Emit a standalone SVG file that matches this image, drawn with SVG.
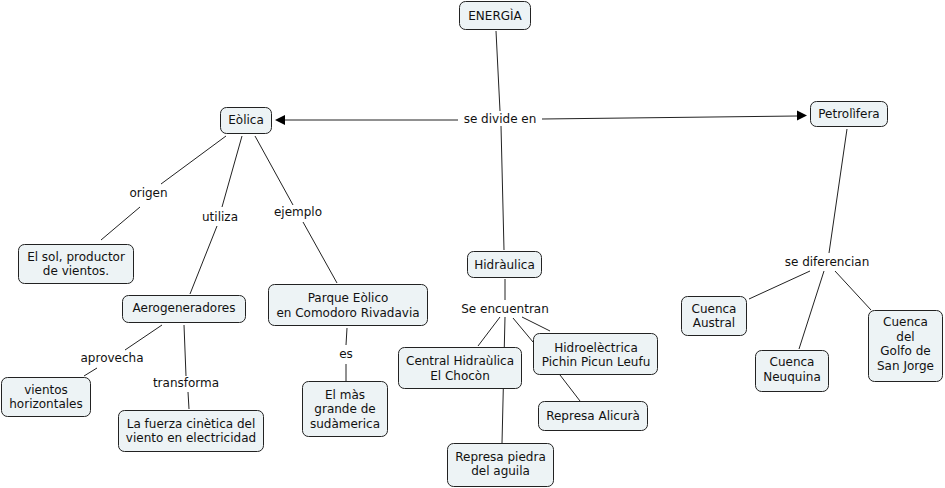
<svg xmlns="http://www.w3.org/2000/svg" width="945" height="488" viewBox="0 0 945 488">
<defs>
<style>
.n rect{fill:#edf3f5;stroke:#222;stroke-width:1}
text{font-family:"DejaVu Sans",Verdana,sans-serif;font-size:12px;fill:#111;text-anchor:middle}
.c line{stroke:#222;stroke-width:1;fill:none}
.c polygon{fill:#000}
</style>
</defs>
<rect x="0" y="0" width="945" height="488" fill="#ffffff"/>
<g id="connectors" class="c">
<line x1="496" y1="31" x2="500" y2="111"/>
<line x1="501" y1="126" x2="504" y2="250"/>
<line x1="458" y1="120" x2="284" y2="120"/>
<polygon points="275,120 285,115 285,125"/>
<line x1="542" y1="119" x2="797" y2="116"/>
<polygon points="807,115.5 797,110.5 797,120.5"/>
<line x1="226" y1="136" x2="161" y2="184"/>
<line x1="140" y1="207" x2="101" y2="240"/>
<line x1="242" y1="136" x2="222" y2="207"/>
<line x1="217" y1="226" x2="190" y2="294"/>
<line x1="255" y1="136" x2="293" y2="205"/>
<line x1="303" y1="222" x2="337" y2="283"/>
<line x1="162" y1="325" x2="125" y2="350"/>
<line x1="97" y1="368" x2="84" y2="376"/>
<line x1="184" y1="325" x2="186" y2="376"/>
<line x1="188" y1="392" x2="189" y2="409"/>
<line x1="347" y1="328" x2="346" y2="345"/>
<line x1="346" y1="364" x2="346" y2="381"/>
<line x1="505" y1="279" x2="505" y2="300"/>
<line x1="500" y1="317" x2="478" y2="346"/>
<line x1="505" y1="317" x2="502" y2="443"/>
<line x1="513" y1="318" x2="533" y2="342"/>
<line x1="522" y1="317" x2="550" y2="331"/>
<line x1="560" y1="375" x2="580" y2="401"/>
<line x1="847" y1="129" x2="829" y2="253"/>
<line x1="810" y1="271" x2="749" y2="299"/>
<line x1="824" y1="271" x2="799" y2="349"/>
<line x1="835" y1="271" x2="871" y2="310"/>
</g>
<g id="labels">
<text x="500" y="122.5">se divide en</text>
<text x="148.5" y="196.5">origen</text>
<text x="220" y="220.5">utiliza</text>
<text x="298" y="215.5">ejemplo</text>
<text x="112" y="361.5">aprovecha</text>
<text x="186" y="386.5">transforma</text>
<text x="346" y="357.5">es</text>
<text x="505" y="312.5">Se encuentran</text>
<text x="827" y="265.5">se diferencian</text>
</g>
<g id="n-energia" class="n"><rect x="459.5" y="1.5" width="71" height="28" rx="6"/><text x="495" y="20">ENERGÌA</text></g>
<g id="n-eolica" class="n"><rect x="220.5" y="107.5" width="51" height="26" rx="6"/><text x="246" y="124">Eòlica</text></g>
<g id="n-petrolifera" class="n"><rect x="810.5" y="101.5" width="77" height="25" rx="6"/><text x="849" y="118">Petrolìfera</text></g>
<g id="n-hidraulica" class="n"><rect x="467.5" y="251.5" width="74" height="26" rx="6"/><text x="504.5" y="268.5">Hidràulica</text></g>
<g id="n-elsol" class="n"><rect x="18.5" y="244.5" width="115" height="39" rx="6"/><text x="76" y="260.5">El sol, productor</text><text x="76" y="275">de vientos.</text></g>
<g id="n-aerogeneradores" class="n"><rect x="122.5" y="295.5" width="123" height="27" rx="6"/><text x="184" y="311.5">Aerogeneradores</text></g>
<g id="n-vientos" class="n"><rect x="1.5" y="377.5" width="89" height="39" rx="6"/><text x="46" y="393.5">vientos</text><text x="46" y="408">horizontales</text></g>
<g id="n-fuerza" class="n"><rect x="118.5" y="410.5" width="145" height="41" rx="6"/><text x="191" y="427.5">La fuerza cinètica del</text><text x="191" y="442">viento en electricidad</text></g>
<g id="n-parque" class="n"><rect x="268.5" y="284.5" width="159" height="41" rx="6"/><text x="348" y="301.5">Parque Eòlico</text><text x="348" y="316.5">en Comodoro Rivadavia</text></g>
<g id="n-elmas" class="n"><rect x="302.5" y="381.5" width="85" height="55" rx="6"/><text x="345" y="398.5">El màs</text><text x="345" y="413">grande de</text><text x="345" y="427.5">sudàmerica</text></g>
<g id="n-central" class="n"><rect x="398.5" y="347.5" width="123" height="41" rx="6"/><text x="460" y="365">Central Hidraùlica</text><text x="460" y="379.5">El Chocòn</text></g>
<g id="n-hidroelectrica" class="n"><rect x="533.5" y="333.5" width="124" height="41" rx="6"/><text x="596" y="351.5">Hidroelèctrica</text><text x="596" y="366">Pichin Picun Leufu</text></g>
<g id="n-alicura" class="n"><rect x="538.5" y="401.5" width="109" height="29" rx="6"/><text x="593" y="420">Represa Alicurà</text></g>
<g id="n-piedra" class="n"><rect x="447.5" y="443.5" width="106" height="43" rx="6"/><text x="500.5" y="460.5">Represa piedra</text><text x="500.5" y="475">del aguila</text></g>
<g id="n-austral" class="n"><rect x="681.5" y="296.5" width="65" height="39" rx="6"/><text x="714" y="312.5">Cuenca</text><text x="714" y="327">Austral</text></g>
<g id="n-neuquina" class="n"><rect x="755.5" y="350.5" width="73" height="41" rx="6"/><text x="792" y="366">Cuenca</text><text x="792" y="380.5">Neuquina</text></g>
<g id="n-golfo" class="n"><rect x="868.5" y="310.5" width="74" height="71" rx="6"/><text x="905.5" y="326">Cuenca</text><text x="905.5" y="340.5">del</text><text x="905.5" y="355">Golfo de</text><text x="905.5" y="369.5">San Jorge</text></g>
</svg>
